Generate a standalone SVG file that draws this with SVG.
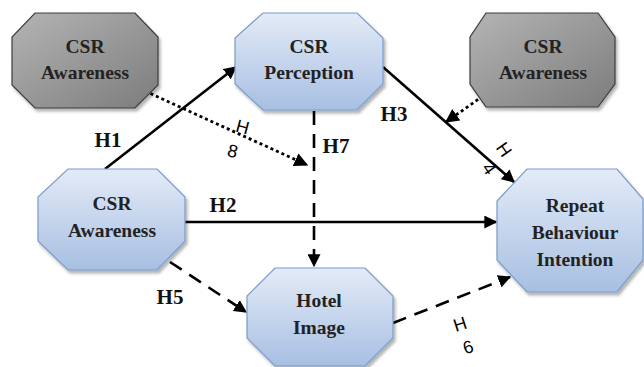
<svg xmlns="http://www.w3.org/2000/svg" width="644" height="367" viewBox="0 0 644 367">
<defs>
<linearGradient id="gBlue" x1="0" y1="0" x2="0" y2="1">
<stop offset="0" stop-color="#e3ebf7"/>
<stop offset="1" stop-color="#a7bfe2"/>
</linearGradient>
<linearGradient id="gGray" x1="0" y1="0" x2="1" y2="1">
<stop offset="0" stop-color="#b4b4b4"/>
<stop offset="1" stop-color="#7c7c7c"/>
</linearGradient>
<filter id="sh" x="-10%" y="-10%" width="125%" height="130%">
<feDropShadow dx="2" dy="3" stdDeviation="1.5" flood-color="#000" flood-opacity="0.3"/>
</filter>
<marker id="arr" viewBox="0 0 10 10" refX="9" refY="5" markerWidth="5" markerHeight="5" orient="auto" markerUnits="strokeWidth">
<path d="M0,0 L10,5 L0,10 z" fill="#000"/>
</marker>
</defs>
<style>
.blue{fill:url(#gBlue);stroke:#7b9bc8;stroke-width:1.2;filter:url(#sh)}
.gray{fill:url(#gGray);stroke:#3c3c3c;stroke-width:1.2;filter:url(#sh)}
.nt{font-weight:bold;font-size:19.5px;fill:#222;text-anchor:middle}
.hl{font-weight:bold;font-size:21px;fill:#111;text-anchor:middle}
.rl{font-size:18px;fill:#000;text-anchor:middle}
.solid{stroke:#000;stroke-width:2.6;fill:none;marker-end:url(#arr)}
.dash{stroke:#000;stroke-width:2.6;fill:none;stroke-dasharray:14 9;marker-end:url(#arr)}
.dot{stroke:#000;stroke-width:2.8;fill:none;stroke-dasharray:3 3;marker-end:url(#arr)}
</style>

<g id="connectors">
<line class="solid" x1="105" y1="169" x2="236" y2="67"/>
<line class="solid" x1="185" y1="222" x2="496" y2="222"/>
<line class="solid" x1="383" y1="67" x2="514" y2="182"/>
<line class="dot" x1="483" y1="96" x2="446" y2="122"/>
<line class="dash" x1="170" y1="262" x2="246" y2="312"/>
<line class="dash" x1="393" y1="323" x2="510" y2="277"/>
<line class="dash" x1="314" y1="111" x2="314" y2="266"/>
<line class="dot" x1="145" y1="91" x2="307" y2="165"/>
</g>

<g id="labels">
<g font-family="Liberation Serif, Times New Roman, DejaVu Serif, serif">
<text class="hl" x="108" y="147">H1</text>
<text class="hl" x="223" y="212">H2</text>
<text class="hl" x="394" y="121">H3</text>
<text class="hl" x="170" y="304">H5</text>
<text class="hl" x="336" y="153">H7</text>
</g>
<g font-family="Liberation Sans, Arial, sans-serif">
<text class="rl" transform="translate(241,133) rotate(15)">H</text>
<text class="rl" transform="translate(231,157) rotate(15)">8</text>
<text class="rl" transform="translate(499,153) rotate(55)">H</text>
<text class="rl" transform="translate(484,172) rotate(55)">4</text>
<text class="rl" transform="translate(462,330) rotate(-18)">H</text>
<text class="rl" transform="translate(470,353) rotate(-18)">6</text>
</g>
</g>

<g font-family="Liberation Serif, Times New Roman, DejaVu Serif, serif">
<g id="awareness-left-gray">
<polygon class="gray" points="35,13 135,13 158,37 158,85 135,108 35,108 12,85 12,37"/>
<text class="nt" x="85" y="53">CSR</text>
<text class="nt" x="85" y="79">Awareness</text>
</g>

<g id="csr-perception">
<polygon class="blue" points="263,13 357,13 383,38 383,84 357,110 263,110 235,84 235,38"/>
<text class="nt" x="309" y="53">CSR</text>
<text class="nt" x="309" y="79">Perception</text>
</g>

<g id="awareness-right-gray">
<polygon class="gray" points="486,13 598,13 615,37 615,84 598,107 486,107 470,84 470,37"/>
<text class="nt" x="543" y="53">CSR</text>
<text class="nt" x="543" y="79">Awareness</text>
</g>

<g id="csr-awareness">
<polygon class="blue" points="68,169 157,169 185,197 185,241 157,270 68,270 38,241 38,197"/>
<text class="nt" x="112" y="210">CSR</text>
<text class="nt" x="112" y="237">Awareness</text>
</g>

<g id="hotel-image">
<polygon class="blue" points="275,268 365,268 393,296 393,338 365,366 275,366 247,338 247,296"/>
<text class="nt" x="319" y="307">Hotel</text>
<text class="nt" x="319" y="334">Image</text>
</g>

<g id="repeat-behaviour">
<polygon class="blue" points="527,169 617,169 643,199 643,260 617,292 527,292 497,260 497,201"/>
<text class="nt" x="575" y="212">Repeat</text>
<text class="nt" x="575" y="239">Behaviour</text>
<text class="nt" x="575" y="266">Intention</text>
</g>
</g>
</svg>
